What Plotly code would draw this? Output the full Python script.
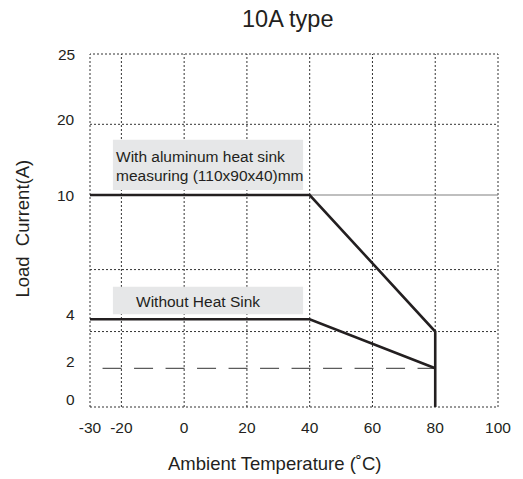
import numpy as np
import plotly.graph_objects as go

# ---------------- data ----------------
temp_with_sink = [-30, 40, 80, 80]
current_with_sink = [10, 10, 3.5, 0]
temp_without_sink = [-30, 40, 80]
current_without_sink = [4, 4, 2]
temp_ref10 = [40, 100]
current_ref10 = [10, 10]
temp_ref2 = [-26, 80]
current_ref2 = [2, 2]

x_ticks = [-30, -20, 0, 20, 40, 60, 80, 100]
x_grid = [-20, 0, 20, 40, 60, 80]
y_ticks = [0, 2, 4, 10, 20, 25]
y_tick_labels = ["0", "2", "4", "10", "20", "25"]
y_grid = [3.5, 6.4, 20]

label_with = ["With aluminum heat sink", "measuring (110x90x40)mm"]
label_without = "Without Heat Sink"

# Non-linear current scale used by the source chart (value -> axis position)
scale_values = [0, 2, 4, 10, 20, 25]
scale_pos = [0, 38.7, 87.7, 212, 282.7, 353]


def ypos(v):
    return np.interp(v, scale_values, scale_pos).tolist()


FONT = "Liberation Sans, Arial, sans-serif"
INK = "#231f20"

fig = go.Figure()

fig.add_trace(go.Scatter(x=temp_ref10, y=ypos(current_ref10), mode="lines",
                         line=dict(color="#808080", width=1.2), hoverinfo="skip"))
fig.add_trace(go.Scatter(x=temp_ref2, y=ypos(current_ref2), mode="lines",
                         line=dict(color="#333333", width=1, dash="19px,12.5px"), hoverinfo="skip"))
fig.add_trace(go.Scatter(x=temp_with_sink, y=ypos(current_with_sink), mode="lines",
                         line=dict(color=INK, width=2.6), name="With heat sink"))
fig.add_trace(go.Scatter(x=temp_without_sink, y=ypos(current_without_sink), mode="lines",
                         line=dict(color=INK, width=2.6), name="Without heat sink"))

shapes = []
grid_line = dict(color="#333333", width=1, dash="2px,2px")
for gx in x_grid:
    shapes.append(dict(type="line", xref="x", yref="paper", x0=gx, x1=gx, y0=0, y1=1,
                       line=grid_line, layer="below"))
for gy in ypos(y_grid):
    shapes.append(dict(type="line", xref="paper", yref="y", x0=0, x1=1, y0=gy, y1=gy,
                       line=grid_line, layer="below"))
shapes.append(dict(type="rect", xref="paper", yref="paper", x0=0, x1=1, y0=0, y1=1,
                   line=grid_line, layer="below"))
# label boxes
b1 = ypos([10.7, 17.8])
b2 = ypos([4.24, 5.57])
shapes.append(dict(type="rect", xref="x", yref="y", x0=-22.7, x1=37.9, y0=b1[0], y1=b1[1],
                   fillcolor="#e6e7e8", line=dict(width=0), layer="below"))
shapes.append(dict(type="rect", xref="x", yref="y", x0=-22.7, x1=37.9, y0=b2[0], y1=b2[1],
                   fillcolor="#e6e7e8", line=dict(width=0), layer="below"))

annotations = []
tf = dict(family=FONT, size=15.5, color=INK)
annotations.append(dict(x=-21.9, y=250.3, xref="x", yref="y", text=label_with[0], showarrow=False,
                        xanchor="left", yanchor="middle", font=tf, borderpad=0))
annotations.append(dict(x=-21.9, y=232, xref="x", yref="y", text=label_with[1], showarrow=False,
                        xanchor="left", yanchor="middle", font=tf, borderpad=0))
annotations.append(dict(x=-15.6, y=106, xref="x", yref="y", text=label_without, showarrow=False,
                        xanchor="left", yanchor="middle", font=tf, borderpad=0))

# y tick labels (nudged as in source)
label_nudge = [8, 7, 5, 0, 5, 0]
for v, t, n in zip(ypos(y_ticks), y_tick_labels, label_nudge):
    annotations.append(dict(x=0, y=v, xref="paper", yref="y", text=t, showarrow=False,
                            xanchor="right", yanchor="middle", xshift=-13, yshift=n,
                            font=dict(family=FONT, size=15.5, color=INK)))

annotations.append(dict(x=0.484, y=1, xref="paper", yref="paper", text="10A type", showarrow=False,
                        xanchor="center", yanchor="middle", yshift=35,
                        font=dict(family=FONT, size=23.5, color=INK)))
annotations.append(dict(x=0.453, y=0, xref="paper", yref="paper", text="Ambient Temperature (˚C)",
                        showarrow=False, xanchor="center", yanchor="middle", yshift=-56,
                        font=dict(family=FONT, size=18.5, color=INK)))
annotations.append(dict(x=0, y=0.504, xref="paper", yref="paper", text="Load  Current(A)",
                        showarrow=False, xanchor="center", yanchor="middle", xshift=-67.5,
                        textangle=-90, font=dict(family=FONT, size=18.5, color=INK)))

fig.update_layout(
    width=523, height=479,
    margin=dict(l=90, r=18, t=54, b=72),
    plot_bgcolor="white", paper_bgcolor="white",
    showlegend=False, hovermode=False,
    shapes=shapes, annotations=annotations,
    xaxis=dict(range=[-30, 100], tickvals=x_ticks, ticktext=[str(t) for t in x_ticks],
               showgrid=False, zeroline=False, showline=False,
               ticks="outside", ticklen=6, tickcolor="rgba(0,0,0,0)",
               tickfont=dict(family=FONT, size=15.5, color=INK)),
    yaxis=dict(range=[0, 353], showticklabels=False, showgrid=False, zeroline=False,
               showline=False, ticks=""),
)

# remove the page's default body margin so the figure fills the window exactly
fig.write_html("out.html",
               config={"displayModeBar": False},
               post_script="document.body.style.margin='0px';"
                           "document.documentElement.style.overflow='hidden';")
